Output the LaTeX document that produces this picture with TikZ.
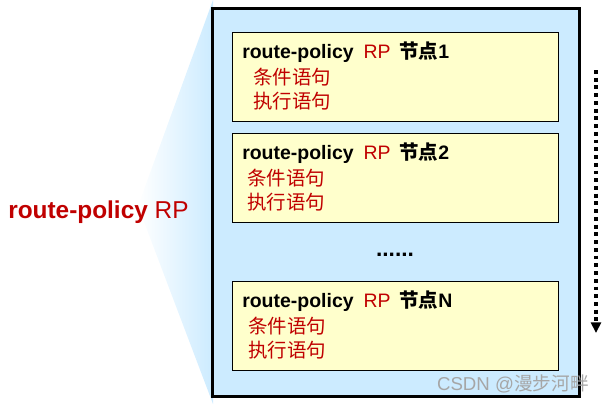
\documentclass[tikz,border=0pt]{standalone}
\usepackage{fontspec}
\setmainfont{Liberation Sans}
\newfontfamily\cjk{Noto Sans CJK SC}
\usetikzlibrary{positioning, arrows.meta, calc}

\definecolor{rpred}{RGB}{192,0,0}
\definecolor{boxblue}{RGB}{204,235,255}
\definecolor{nodeyellow}{RGB}{255,255,204}

\begin{document}
\begin{tikzpicture}[
    x=0.75pt, y=-0.75pt,
    policy/.style={rectangle, draw, line width=2.4pt, fill=boxblue, minimum width=275.25pt, minimum height=291pt, inner sep=0pt, outer sep=0pt},
    rpnode/.style={rectangle, draw, line width=0.75pt, fill=nodeyellow, minimum width=244.5pt, minimum height=66.75pt, inner sep=0pt, outer sep=0pt},
    title/.style={anchor=base west, inner sep=0pt, font=\bfseries\fontsize{14.6}{17}\selectfont},
    clause/.style={anchor=base west, inner sep=0pt, text=rpred, font=\cjk\fontsize{14.6}{17}\selectfont},
    flow/.style={-{Triangle[width=7.5pt, length=8pt]}, line width=2.9pt, dash pattern=on 2.9pt off 2.9pt}
]

\useasboundingbox (0,0) rectangle (604,404);

% wedge from the label to the box
\shade[left color=white, right color=boxblue] (138,206) -- (213,0) -- (213,404) -- cycle;

\node[font=\fontsize{18.3}{22}\selectfont, text=rpred, anchor=base west, inner sep=0pt] (lbl) at (8,218) {\textbf{route-policy} RP};

\node[policy] (rp) at (396,202.5) {};

\node[rpnode] (node1) at (395,76.5) {};
\node[title] (t1) at ($(node1.north west)+(10,26)$) {route-policy\hspace{7.5pt}{\mdseries\color{rpred}RP}\hspace{6.5pt}{\cjk\bfseries 节点}1};
\node[clause] (c1) at ($(node1.north west)+(21,52)$) {条件语句};
\node[clause] (e1) at ($(node1.north west)+(21,76)$) {执行语句};

\node[rpnode] (node2) at (395,177.5) {};
\node[title] (t2) at ($(node2.north west)+(10,26)$) {route-policy\hspace{7.5pt}{\mdseries\color{rpred}RP}\hspace{6.5pt}{\cjk\bfseries 节点}2};
\node[clause] (c2) at ($(node2.north west)+(15,52)$) {条件语句};
\node[clause] (e2) at ($(node2.north west)+(15,76)$) {执行语句};

\node[font=\bfseries\fontsize{17}{20}\selectfont, anchor=base, inner sep=0pt] (dots) at (395,256) {......};

\node[rpnode] (nodeN) at (395,325.5) {};
\node[title] (tN) at ($(nodeN.north west)+(10,26)$) {route-policy\hspace{7.5pt}{\mdseries\color{rpred}RP}\hspace{6.5pt}{\cjk\bfseries 节点}N};
\node[clause] (cN) at ($(nodeN.north west)+(16,52)$) {条件语句};
\node[clause] (eN) at ($(nodeN.north west)+(16,76)$) {执行语句};

% order of matching
\coordinate (top) at (596,70);
\coordinate (bottom) at (596,333);
\draw[flow] (top) -- (bottom);

\node[font=\fontsize{14}{16}\selectfont, text=black!35, anchor=base east, inner sep=0pt] (mark) at (589,390) {CSDN @{\cjk 漫步河畔}};

\end{tikzpicture}
\end{document}
